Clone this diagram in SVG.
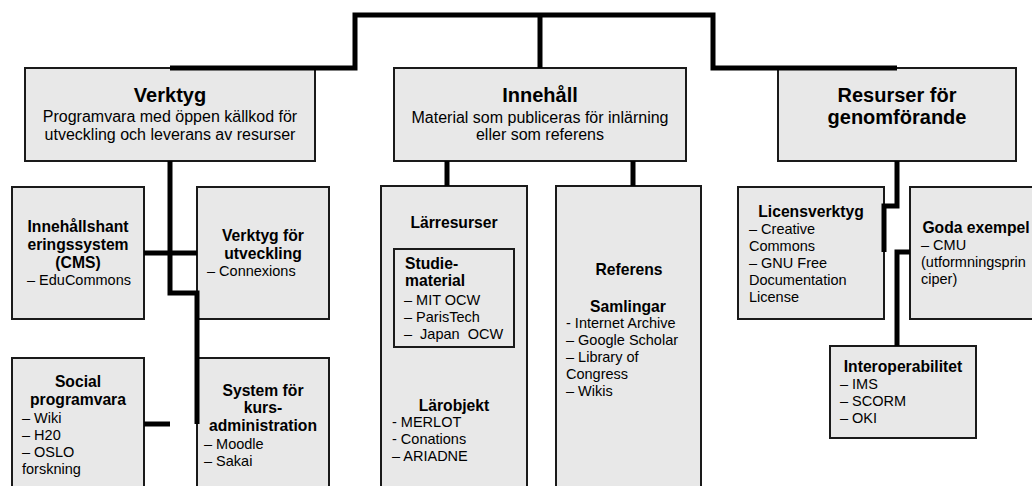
<svg xmlns="http://www.w3.org/2000/svg" width="1032" height="486" viewBox="0 0 1032 486">
<style>
.box{fill:#e8e8e8;stroke:#1a1a1a;stroke-width:2}
.inner{fill:#e8e8e8;stroke:#1a1a1a;stroke-width:2}
.con{fill:none;stroke:#000;stroke-width:5;stroke-linejoin:miter;stroke-linecap:butt}
text{font-family:"Liberation Sans",Arial,sans-serif;fill:#000}
.t1{font-size:20px;font-weight:bold;text-anchor:middle}
.sub{font-size:16px;text-anchor:middle}
.h{font-size:15.7px;font-weight:bold;text-anchor:middle}
.hl{font-size:15.7px;font-weight:bold}
.i{font-size:14.5px}
</style>
<rect width="1032" height="486" fill="#fff"/>
<g id="verktyg">
<rect class="box" x="25" y="68" width="290" height="93"/>
<text class="t1" x="170" y="102">Verktyg</text>
<text class="sub" x="170" y="122">Programvara med öppen källkod för</text>
<text class="sub" x="170" y="140">utveckling och leverans av resurser</text>
</g>
<g id="innehall">
<rect class="box" x="394" y="68" width="292" height="93"/>
<text class="t1" x="540" y="102">Innehåll</text>
<text class="sub" x="540" y="123">Material som publiceras för inlärning</text>
<text class="sub" x="540" y="140">eller som referens</text>
</g>
<g id="resurser">
<rect class="box" x="778" y="68" width="238" height="93"/>
<text class="t1" x="897" y="102">Resurser för</text>
<text class="t1" x="897" y="124">genomförande</text>
</g>
<g id="cms">
<rect class="box" x="12" y="187" width="132" height="132"/>
<text class="h" x="78" y="232">Innehållshant</text>
<text class="h" x="78" y="250">eringssystem</text>
<text class="h" x="78" y="268">(CMS)</text>
<text class="i" x="27" y="285">– EduCommons</text>
</g>
<g id="verktyg-utveckling">
<rect class="box" x="197" y="187" width="132" height="132"/>
<text class="h" x="263" y="241">Verktyg för</text>
<text class="h" x="263" y="259">utveckling</text>
<text class="i" x="207" y="276">– Connexions</text>
</g>
<g id="social">
<rect class="box" x="12" y="358" width="132" height="140"/>
<text class="h" x="78" y="387">Social</text>
<text class="h" x="78" y="405">programvara</text>
<text class="i" x="22" y="423">– Wiki</text>
<text class="i" x="22" y="440">– H20</text>
<text class="i" x="22" y="457">– OSLO</text>
<text class="i" x="22" y="474">forskning</text>
</g>
<g id="kursadmin">
<rect class="box" x="197" y="358" width="132" height="140"/>
<text class="h" x="263" y="396">System för</text>
<text class="h" x="263" y="413">kurs-</text>
<text class="h" x="263" y="431">administration</text>
<text class="i" x="204" y="449">– Moodle</text>
<text class="i" x="204" y="466">– Sakai</text>
</g>
<g id="larresurser">
<rect class="box" x="381" y="186" width="146" height="312"/>
<text class="h" x="454" y="228">Lärresurser</text>
<text class="h" x="454" y="411">Lärobjekt</text>
<text class="i" x="392" y="427">- MERLOT</text>
<text class="i" x="392" y="444">- Conations</text>
<text class="i" x="392" y="461">– ARIADNE</text>
</g>
<g id="studiematerial">
<rect class="inner" x="394" y="249" width="120" height="98"/>
<text class="hl" x="405" y="269">Studie-</text>
<text class="hl" x="405" y="286">material</text>
<text class="i" x="404" y="305">– MIT OCW</text>
<text class="i" x="404" y="322">– ParisTech</text>
<text class="i" x="404" y="339" xml:space="preserve">–  Japan  OCW</text>
</g>
<g id="referens">
<rect class="box" x="556" y="186" width="145" height="312"/>
<text class="h" x="629" y="275">Referens</text>
<text class="h" x="628" y="312">Samlingar</text>
<text class="i" x="566" y="328">- Internet Archive</text>
<text class="i" x="566" y="345">– Google Scholar</text>
<text class="i" x="566" y="362">– Library of</text>
<text class="i" x="566" y="379">Congress</text>
<text class="i" x="566" y="396">– Wikis</text>
</g>
<g id="licensverktyg">
<rect class="box" x="738" y="187" width="146" height="132"/>
<text class="h" x="811" y="217">Licensverktyg</text>
<text class="i" x="749" y="234">– Creative</text>
<text class="i" x="749" y="251">Commons</text>
<text class="i" x="749" y="268">– GNU Free</text>
<text class="i" x="749" y="285">Documentation</text>
<text class="i" x="749" y="302">License</text>
</g>
<g id="goda-exempel">
<rect class="box" x="910" y="187" width="132" height="132"/>
<text class="h" x="976" y="233">Goda exempel</text>
<text class="i" x="921" y="250">– CMU</text>
<text class="i" x="921" y="267">(utformningsprin</text>
<text class="i" x="921" y="284">ciper)</text>
</g>
<g id="interoperabilitet">
<rect class="box" x="830" y="346" width="146" height="92"/>
<text class="h" x="903" y="372">Interoperabilitet</text>
<text class="i" x="840" y="389">– IMS</text>
<text class="i" x="840" y="406">– SCORM</text>
<text class="i" x="840" y="423">– OKI</text>
</g>
<g id="connectors">
<path class="con" d="M170,68 H355 V15 H713 V68 H897"/>
<path class="con" d="M540,15 V68"/>
<path class="con" d="M447,161 V186"/>
<path class="con" d="M633,161 V186"/>
<path class="con" d="M170,161 V293 H197 V424"/>
<path class="con" d="M144,253 H197"/>
<path class="con" d="M144,424 H170"/>
<path class="con" d="M897,161 V206 H884 V252"/>
<path class="con" d="M910,252 H897 V346"/>
</g>
</svg>
